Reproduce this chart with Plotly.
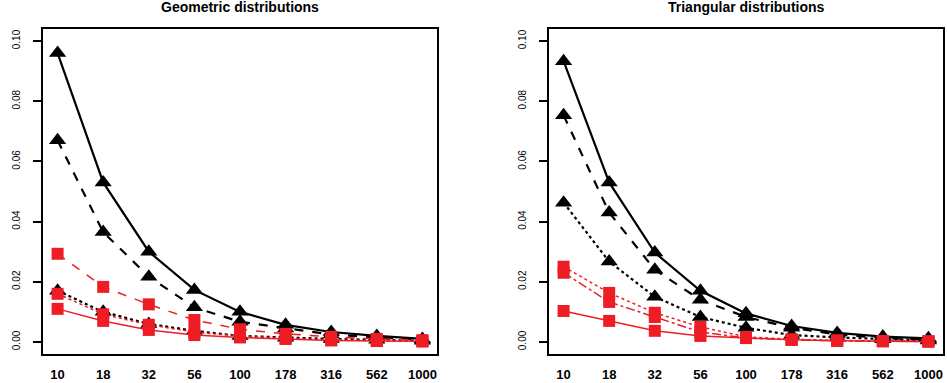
import plotly.graph_objects as go

categories = ["10", "18", "32", "56", "100", "178", "316", "562", "1000"]
y_ticks = [0.00, 0.02, 0.04, 0.06, 0.08, 0.10]
y_tick_labels = ["0.00", "0.02", "0.04", "0.06", "0.08", "0.10"]

# Geometric distributions
geo_black_solid = [0.096, 0.053, 0.030, 0.0173, 0.0100, 0.0057, 0.0033, 0.0020, 0.0010]
geo_black_dash = [0.067, 0.0365, 0.0217, 0.0115, 0.0067, 0.0045, 0.0025, 0.0015, 0.0008]
geo_black_dot = [0.0170, 0.0100, 0.0060, 0.0037, 0.0020, 0.0014, 0.0010, 0.0007, 0.0004]
geo_red_dash = [0.0293, 0.0183, 0.0125, 0.0073, 0.0042, 0.0027, 0.0017, 0.0010, 0.0006]
geo_red_dot = [0.0160, 0.0092, 0.0057, 0.0033, 0.0020, 0.0012, 0.0007, 0.0004, 0.0002]
geo_red_solid = [0.0110, 0.0070, 0.0040, 0.0023, 0.0015, 0.0010, 0.0005, 0.0003, 0.0002]

# Triangular distributions
tri_black_solid = [0.0933, 0.0530, 0.0297, 0.0170, 0.0095, 0.0053, 0.0030, 0.0018, 0.0012]
tri_black_dash = [0.0753, 0.0430, 0.0240, 0.0140, 0.0083, 0.0047, 0.0025, 0.0013, 0.0008]
tri_black_dot = [0.0463, 0.0267, 0.0150, 0.0083, 0.0047, 0.0023, 0.0015, 0.0009, 0.0005]
tri_red_dot = [0.0250, 0.0163, 0.0097, 0.0050, 0.0017, 0.0009, 0.0005, 0.0003, 0.0002]
tri_red_dash = [0.0230, 0.0133, 0.0083, 0.0033, 0.0013, 0.0007, 0.0004, 0.0003, 0.0002]
tri_red_solid = [0.0103, 0.0070, 0.0037, 0.0020, 0.0013, 0.0007, 0.0004, 0.0002, 0.0001]

BLACK = "#000000"
RED = "#EE1C25"

fig = go.Figure()

def add(vals, color, dash, symbol, xa, ya, width, msize):
    fig.add_trace(go.Scatter(
        x=categories, y=vals, xaxis=xa, yaxis=ya, mode="lines+markers",
        line=dict(color=color, dash=dash, width=width),
        marker=dict(symbol=symbol, color=color, size=msize, line=dict(width=0)),
        showlegend=False, hoverinfo="skip"))

for xa, ya, series in [
    ("x", "y", [(geo_black_solid, BLACK, "solid", "triangle-up"),
                (geo_black_dash, BLACK, "dash", "triangle-up"),
                (geo_black_dot, BLACK, "dot", "triangle-up"),
                (geo_red_dash, RED, "dash", "square"),
                (geo_red_dot, RED, "dot", "square"),
                (geo_red_solid, RED, "solid", "square")]),
    ("x2", "y2", [(tri_black_solid, BLACK, "solid", "triangle-up"),
                  (tri_black_dash, BLACK, "dash", "triangle-up"),
                  (tri_black_dot, BLACK, "dot", "triangle-up"),
                  (tri_red_dot, RED, "dot", "square"),
                  (tri_red_dash, RED, "dashdot", "square"),
                  (tri_red_solid, RED, "solid", "square")]),
]:
    for vals, color, dash, sym in series:
        black = color == BLACK
        add(vals, color, dash, sym, xa, ya, 2.2 if black else 1.5, 15 if black else 12)

W, H = 947, 383
ydom = [(H - 354) / H, (H - 29) / H]

xcommon = dict(type="category", range=[-0.32, 8.32], showgrid=False, zeroline=False,
               showline=True, mirror=True, linecolor="black", linewidth=2,
               ticks="", tickfont=dict(family="Liberation Sans", size=13, color="black", weight="bold"),
               ticklabelstandoff=7, categoryorder="array", categoryarray=categories)
ycommon = dict(range=[-0.004, 0.104], showgrid=False, zeroline=False,
               showline=True, mirror=True, linecolor="black", linewidth=2,
               ticks="outside", ticklen=8, tickwidth=1.5, tickcolor="black",
               tickvals=y_ticks, ticktext=y_tick_labels, tickangle=-90,
               tickfont=dict(family="Liberation Sans", size=10, color="black"),
               ticklabelstandoff=9, domain=ydom)

fig.update_layout(
    width=W, height=H, margin=dict(l=0, r=0, t=0, b=0),
    plot_bgcolor="white", paper_bgcolor="white",
    xaxis=dict(domain=[43 / W, 437 / W], anchor="y", **xcommon),
    yaxis=dict(anchor="x", **ycommon),
    xaxis2=dict(domain=[549 / W, 943 / W], anchor="y2", **xcommon),
    yaxis2=dict(anchor="x2", **ycommon),
    annotations=[
        dict(text="<b>Geometric distributions</b>", x=240 / W, y=1 - 7 / H, xref="paper", yref="paper",
             xanchor="center", yanchor="middle", showarrow=False,
             font=dict(family="Liberation Sans", size=14, color="black")),
        dict(text="<b>Triangular distributions</b>", x=746 / W, y=1 - 7 / H, xref="paper", yref="paper",
             xanchor="center", yanchor="middle", showarrow=False,
             font=dict(family="Liberation Sans", size=14, color="black")),
    ],
)

fig.write_html("out.html")
